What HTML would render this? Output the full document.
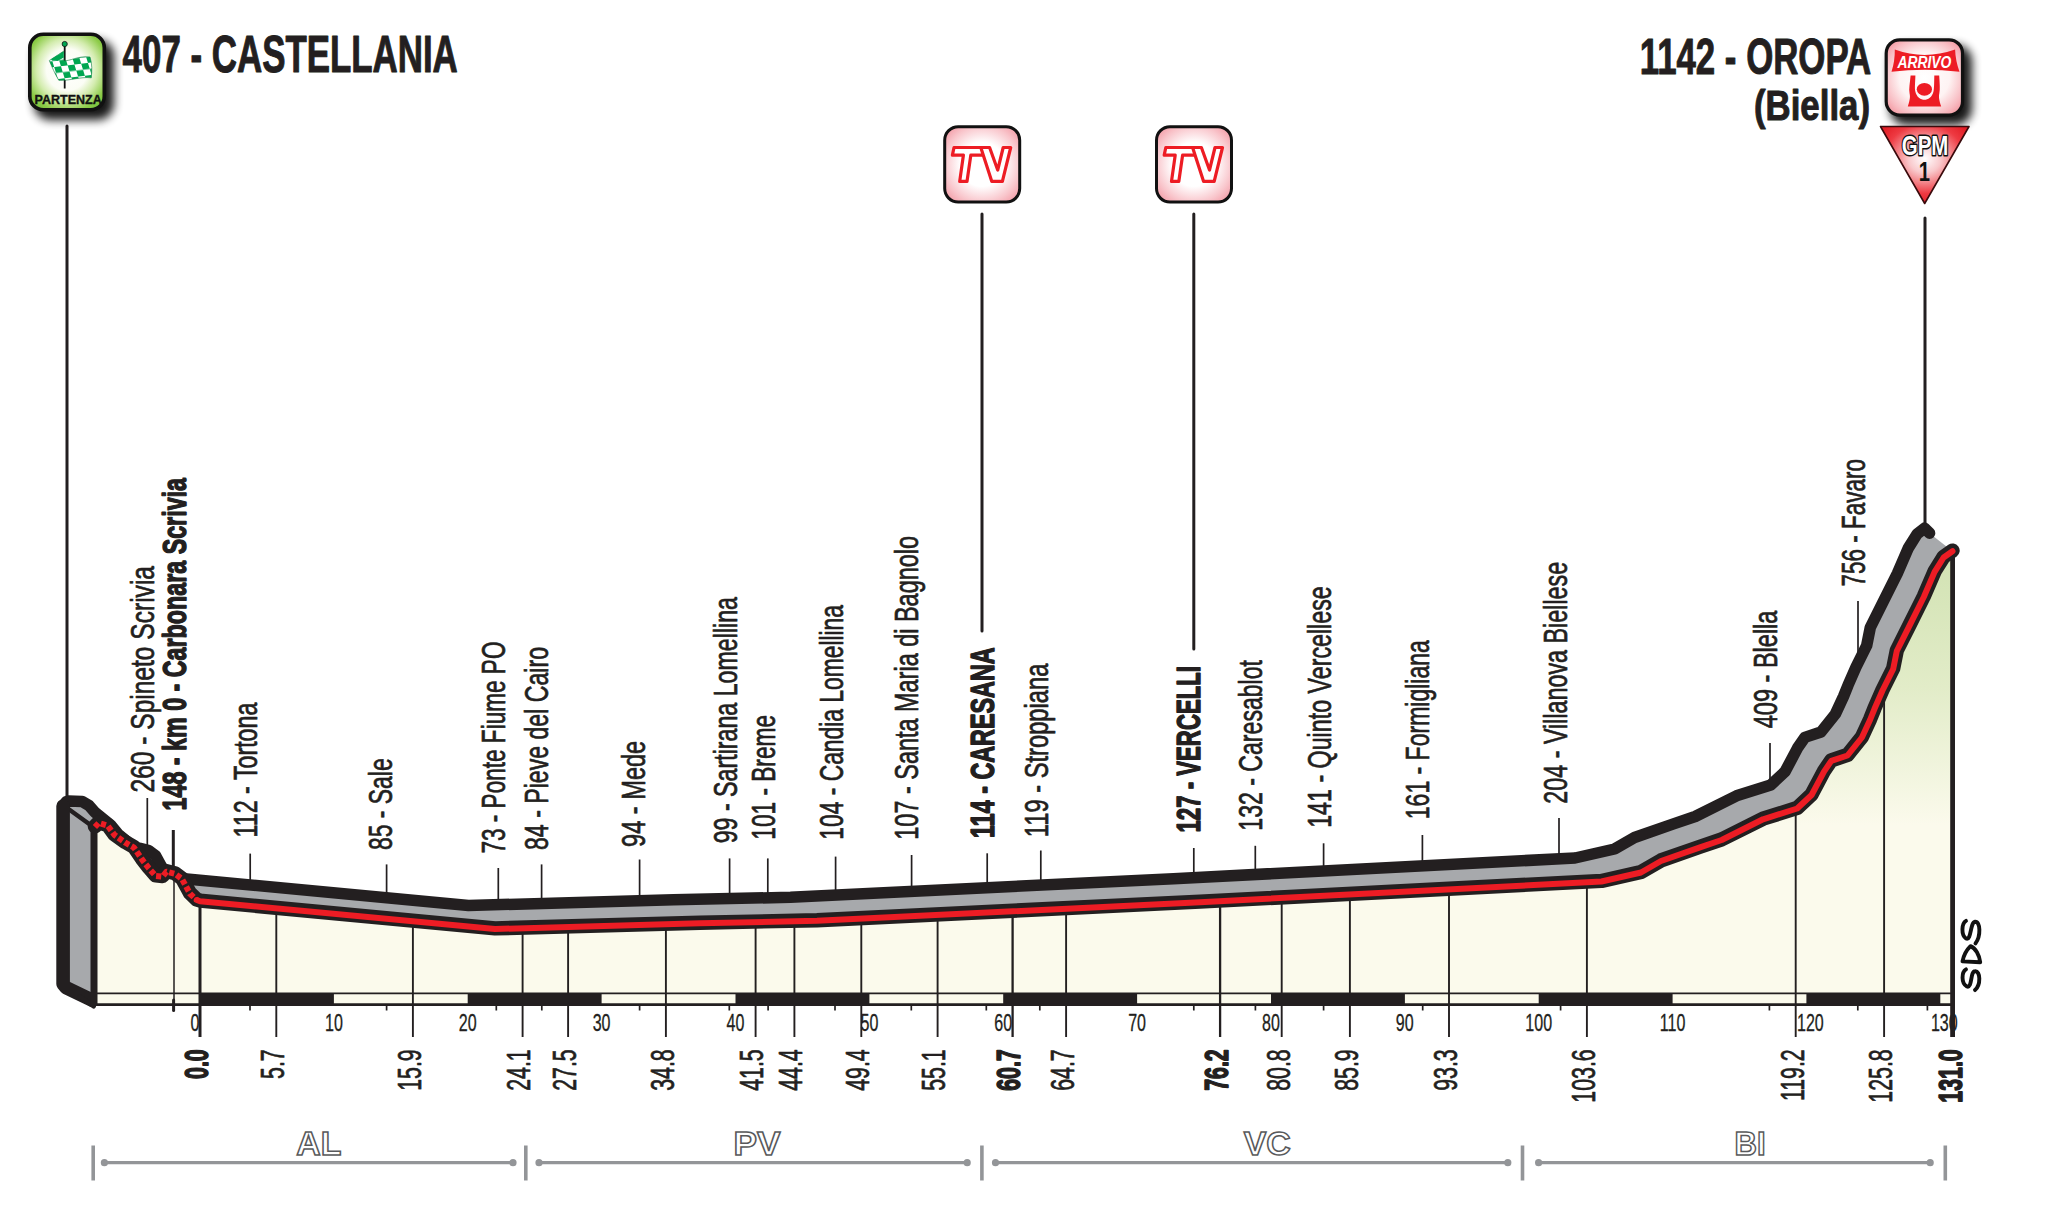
<!DOCTYPE html>
<html><head><meta charset="utf-8"><title>Stage profile</title>
<style>html,body{margin:0;padding:0;background:#fff}body{width:2048px;height:1224px;overflow:hidden;font-family:"Liberation Sans",sans-serif}svg{display:block}</style>
</head><body>
<svg width="2048" height="1224" viewBox="0 0 2048 1224">
<defs>
<linearGradient id="fillg" gradientUnits="userSpaceOnUse" x1="0" y1="550" x2="0" y2="825">
<stop offset="0" stop-color="#d1e2b2"/><stop offset="0.5" stop-color="#e2ecc8"/><stop offset="1" stop-color="#fbfaec"/></linearGradient>
<radialGradient id="gGreen" cx="0.5" cy="0.47" r="0.66"><stop offset="0" stop-color="#ffffff"/><stop offset="0.42" stop-color="#fbfdf5"/><stop offset="0.62" stop-color="#d3ecae"/><stop offset="0.85" stop-color="#8ccb47"/><stop offset="1" stop-color="#72bf3c"/></radialGradient>
<radialGradient id="gRed" cx="0.5" cy="0.5" r="0.66"><stop offset="0" stop-color="#ffffff"/><stop offset="0.5" stop-color="#fef3f3"/><stop offset="0.8" stop-color="#f8bcc2"/><stop offset="1" stop-color="#f2909a"/></radialGradient>
<radialGradient id="gPink" cx="0.5" cy="0.5" r="0.65"><stop offset="0" stop-color="#ffffff"/><stop offset="0.45" stop-color="#ffffff"/><stop offset="0.78" stop-color="#f9c6cc"/><stop offset="1" stop-color="#f39ba6"/></radialGradient>
<radialGradient id="gTri" cx="0.5" cy="0.42" r="0.6"><stop offset="0" stop-color="#ffffff"/><stop offset="0.3" stop-color="#f9c9cc"/><stop offset="0.75" stop-color="#ee3a42"/><stop offset="1" stop-color="#e31e26"/></radialGradient>
<filter id="sh" x="-40%" y="-40%" width="200%" height="200%"><feGaussianBlur stdDeviation="5"/></filter>
<pattern id="chk" width="13.6" height="12.4" patternUnits="userSpaceOnUse" patternTransform="translate(50.5,55) rotate(-7) skewX(10)"><rect width="13.6" height="12.4" fill="#fff"/><rect width="6.8" height="6.2" fill="#00a651"/><rect x="6.8" y="6.2" width="6.8" height="6.2" fill="#00a651"/></pattern>
</defs>
<rect width="2048" height="1224" fill="#fff"/>
<g stroke="#231f20" stroke-width="1.7" fill="none">
<line x1="147.3" y1="798.0" x2="147.3" y2="845.0"/>
<line x1="173.3" y1="830.0" x2="173.3" y2="880.0" stroke-width="3"/>
<line x1="250.2" y1="853.6" x2="250.2" y2="884.9"/>
<line x1="386.6" y1="864.4" x2="386.6" y2="897.8"/>
<line x1="498.3" y1="868.0" x2="498.3" y2="904.7"/>
<line x1="541.6" y1="864.4" x2="541.6" y2="903.5"/>
<line x1="639.6" y1="859.5" x2="639.6" y2="900.7"/>
<line x1="729.6" y1="858.4" x2="729.6" y2="898.6"/>
<line x1="767.8" y1="858.4" x2="767.8" y2="897.8"/>
<line x1="835.6" y1="856.6" x2="835.6" y2="895.1"/>
<line x1="911.6" y1="855.0" x2="911.6" y2="891.4"/>
<line x1="987.2" y1="853.3" x2="987.2" y2="887.7"/>
<line x1="1040.8" y1="850.5" x2="1040.8" y2="885.1"/>
<line x1="1193.8" y1="848.0" x2="1193.8" y2="877.7"/>
<line x1="1255.3" y1="845.8" x2="1255.3" y2="874.5"/>
<line x1="1323.6" y1="843.3" x2="1323.6" y2="871.0"/>
<line x1="1422.4" y1="835.0" x2="1422.4" y2="865.9"/>
<line x1="1559.0" y1="818.0" x2="1559.0" y2="858.8"/>
<line x1="1770.0" y1="743.0" x2="1770.0" y2="785.2"/>
<line x1="1858.0" y1="601.0" x2="1858.0" y2="663.0"/>
</g>
<g stroke="#231f20" stroke-width="3" fill="none" stroke-linecap="round">
<line x1="67" y1="126" x2="67" y2="800"/>
<line x1="982" y1="214" x2="982" y2="631"/>
<line x1="1193.8" y1="214" x2="1193.8" y2="649"/>
<line x1="1925" y1="218" x2="1925" y2="528"/>
</g>
<polygon points="94.0,1004.0 63.2,987.0 63.2,806.0 66.5,801.5 68.4,801.0 82.2,801.5 89.0,805.5 94.9,812.3 110.6,824.9 118.4,834.3 127.0,841.5 136.0,853.1 140.0,848.2 148.8,850.5 155.5,855.5 163.5,870.2 170.2,876.5 173.5,877.7 468.5,905.5 673.5,899.8 790.5,897.3 1173.5,878.7 1575.0,858.0 1614.5,849.0 1634.5,837.5 1673.5,823.8 1695.2,816.5 1736.5,795.8 1770.7,785.0 1785.1,771.5 1797.5,748.1 1804.8,737.4 1821.0,732.0 1835.4,714.0 1843.5,696.5 1848.0,685.3 1856.0,667.0 1866.7,645.5 1870.3,627.5 1882.9,602.3 1897.3,573.5 1908.1,548.4 1917.1,534.0 1924.5,528.2 1929.6,533.2 1952.5,551.2 1943.6,557.5 1934.6,571.9 1923.8,597.0 1909.4,625.8 1896.8,651.0 1893.2,669.0 1882.5,690.5 1874.5,708.8 1870.0,720.0 1861.9,737.5 1847.5,755.5 1831.3,760.9 1824.0,771.6 1811.6,795.0 1797.2,808.5 1763.0,819.3 1721.7,840.0 1700.0,847.3 1661.0,861.0 1641.0,872.5 1601.5,881.5 1200.0,902.2 817.0,920.8 700.0,923.3 495.0,929.0 200.0,901.2 196.7,900.0 190.0,893.7 182.0,879.0 175.3,874.0 166.5,871.7 162.5,876.6 155.7,876.0 148.8,868.2 142.0,859.4 134.0,847.6 125.3,842.7 114.5,835.0 107.6,825.6 98.8,823.0 94.9,827.0 94.0,827.0" fill="#a7a9ac"/>
<line x1="65" y1="806.5" x2="94" y2="827.5" stroke="#231f20" stroke-width="4.5" stroke-linecap="round"/>
<polyline points="63.2,806.0 66.5,801.5 68.4,801.0 82.2,801.5 89.0,805.5 94.9,812.3 110.6,824.9 118.4,834.3 127.0,841.5 136.0,853.1 140.0,848.2 148.8,850.5 155.5,855.5 163.5,870.2 170.2,876.5 173.5,877.7 468.5,905.5 673.5,899.8 790.5,897.3 1173.5,878.7 1575.0,858.0 1614.5,849.0 1634.5,837.5 1673.5,823.8 1695.2,816.5 1736.5,795.8 1770.7,785.0 1785.1,771.5 1797.5,748.1 1804.8,737.4 1821.0,732.0 1835.4,714.0 1843.5,696.5 1848.0,685.3 1856.0,667.0 1866.7,645.5 1870.3,627.5 1882.9,602.3 1897.3,573.5 1908.1,548.4 1917.1,534.0 1924.5,528.2 1929.6,533.2" fill="none" stroke="#231f20" stroke-width="11.5" stroke-linejoin="round" stroke-linecap="round"/>
<polyline points="92.5,1000.3 66,987.6 63.1,984 63.1,806" fill="none" stroke="#231f20" stroke-width="13.6" stroke-linejoin="round" stroke-linecap="round"/>
<line x1="80" y1="997" x2="93.5" y2="1006" stroke="#231f20" stroke-width="5" stroke-linecap="round"/>
<polygon points="94.9,827.0 98.8,823.0 107.6,825.6 114.5,835.0 125.3,842.7 134.0,847.6 142.0,859.4 148.8,868.2 155.7,876.0 162.5,876.6 166.5,871.7 175.3,874.0 182.0,879.0 190.0,893.7 196.7,900.0 200.0,901.2 495.0,929.0 700.0,923.3 817.0,920.8 1200.0,902.2 1601.5,881.5 1641.0,872.5 1661.0,861.0 1700.0,847.3 1721.7,840.0 1763.0,819.3 1797.2,808.5 1811.6,795.0 1824.0,771.6 1831.3,760.9 1847.5,755.5 1861.9,737.5 1870.0,720.0 1874.5,708.8 1882.5,690.5 1893.2,669.0 1896.8,651.0 1909.4,625.8 1923.8,597.0 1934.6,571.9 1943.6,557.5 1952.5,551.2 1953.0,1004.5 94.0,1004.5" fill="url(#fillg)"/>
<rect x="97" y="993.4" width="1856" height="11" fill="#fbfaec"/>
<g stroke="#231f20" fill="none">
<line x1="200.0" y1="901.2" x2="200.0" y2="1037" stroke-width="3.0"/>
<line x1="276.3" y1="908.4" x2="276.3" y2="1037" stroke-width="1.9"/>
<line x1="412.9" y1="921.3" x2="412.9" y2="1037" stroke-width="1.9"/>
<line x1="522.6" y1="928.2" x2="522.6" y2="1037" stroke-width="1.9"/>
<line x1="568.1" y1="927.0" x2="568.1" y2="1037" stroke-width="1.9"/>
<line x1="665.9" y1="924.2" x2="665.9" y2="1037" stroke-width="1.9"/>
<line x1="755.6" y1="922.1" x2="755.6" y2="1037" stroke-width="1.9"/>
<line x1="794.4" y1="921.3" x2="794.4" y2="1037" stroke-width="1.9"/>
<line x1="861.3" y1="918.6" x2="861.3" y2="1037" stroke-width="1.9"/>
<line x1="937.6" y1="914.9" x2="937.6" y2="1037" stroke-width="1.9"/>
<line x1="1012.6" y1="911.3" x2="1012.6" y2="1037" stroke-width="2.3"/>
<line x1="1066.1" y1="908.7" x2="1066.1" y2="1037" stroke-width="1.9"/>
<line x1="1220.1" y1="901.2" x2="1220.1" y2="1037" stroke-width="2.3"/>
<line x1="1281.7" y1="898.0" x2="1281.7" y2="1037" stroke-width="1.9"/>
<line x1="1349.9" y1="894.5" x2="1349.9" y2="1037" stroke-width="1.9"/>
<line x1="1449.0" y1="889.4" x2="1449.0" y2="1037" stroke-width="1.9"/>
<line x1="1586.9" y1="882.3" x2="1586.9" y2="1037" stroke-width="1.9"/>
<line x1="1795.7" y1="809.0" x2="1795.7" y2="1037" stroke-width="1.9"/>
<line x1="1884.1" y1="687.3" x2="1884.1" y2="1037" stroke-width="1.9"/>
<line x1="174" y1="870" x2="174" y2="1004" stroke-width="1.5"/>
<line x1="173.6" y1="1000" x2="173.6" y2="1010.5" stroke-width="3" stroke-linecap="round"/>
</g>
<rect x="200.0" y="993.4" width="133.9" height="11" fill="#231f20"/>
<rect x="467.7" y="993.4" width="133.9" height="11" fill="#231f20"/>
<rect x="735.5" y="993.4" width="133.9" height="11" fill="#231f20"/>
<rect x="1003.2" y="993.4" width="133.9" height="11" fill="#231f20"/>
<rect x="1271.0" y="993.4" width="133.9" height="11" fill="#231f20"/>
<rect x="1538.7" y="993.4" width="133.9" height="11" fill="#231f20"/>
<rect x="1806.4" y="993.4" width="133.9" height="11" fill="#231f20"/>
<line x1="94" y1="993.4" x2="1953" y2="993.4" stroke="#231f20" stroke-width="1.6"/>
<line x1="94" y1="1004.6" x2="1953" y2="1004.6" stroke="#231f20" stroke-width="2.6"/>
<g stroke="#231f20" stroke-width="1.7">
<line x1="250.0" y1="1004" x2="250.0" y2="1010.5"/>
<line x1="386.6" y1="1004" x2="386.6" y2="1010.5"/>
<line x1="496.3" y1="1004" x2="496.3" y2="1010.5"/>
<line x1="541.8" y1="1004" x2="541.8" y2="1010.5"/>
<line x1="639.6" y1="1004" x2="639.6" y2="1010.5"/>
<line x1="729.3" y1="1004" x2="729.3" y2="1010.5"/>
<line x1="768.1" y1="1004" x2="768.1" y2="1010.5"/>
<line x1="835.0" y1="1004" x2="835.0" y2="1010.5"/>
<line x1="911.3" y1="1004" x2="911.3" y2="1010.5"/>
<line x1="986.3" y1="1004" x2="986.3" y2="1010.5"/>
<line x1="1039.8" y1="1004" x2="1039.8" y2="1010.5"/>
<line x1="1193.8" y1="1004" x2="1193.8" y2="1010.5"/>
<line x1="1255.4" y1="1004" x2="1255.4" y2="1010.5"/>
<line x1="1323.6" y1="1004" x2="1323.6" y2="1010.5"/>
<line x1="1422.7" y1="1004" x2="1422.7" y2="1010.5"/>
<line x1="1560.6" y1="1004" x2="1560.6" y2="1010.5"/>
<line x1="1769.4" y1="1004" x2="1769.4" y2="1010.5"/>
<line x1="1857.8" y1="1004" x2="1857.8" y2="1010.5"/>
<line x1="1927.4" y1="1004" x2="1927.4" y2="1010.5"/>
</g>
<line x1="94" y1="829" x2="94" y2="1006" stroke="#231f20" stroke-width="7"/>
<line x1="1952.6" y1="552" x2="1952.6" y2="1037" stroke="#231f20" stroke-width="4.8"/>
<polyline points="94.9,827.0 98.8,823.0 107.6,825.6 114.5,835.0 125.3,842.7 134.0,847.6 142.0,859.4 148.8,868.2 155.7,876.0 162.5,876.6 166.5,871.7 175.3,874.0 182.0,879.0 190.0,893.7 196.7,900.0 200.0,901.2 495.0,929.0 700.0,923.3 817.0,920.8 1200.0,902.2 1601.5,881.5 1641.0,872.5 1661.0,861.0 1700.0,847.3 1721.7,840.0 1763.0,819.3 1797.2,808.5 1811.6,795.0 1824.0,771.6 1831.3,760.9 1847.5,755.5 1861.9,737.5 1870.0,720.0 1874.5,708.8 1882.5,690.5 1893.2,669.0 1896.8,651.0 1909.4,625.8 1923.8,597.0 1934.6,571.9 1943.6,557.5 1952.5,551.2" fill="none" stroke="#231f20" stroke-width="14.4" stroke-linejoin="round" stroke-linecap="round" transform="translate(0,-0.6)"/>
<polyline points="94.9,827.0 98.8,823.0 107.6,825.6 114.5,835.0 125.3,842.7 134.0,847.6 142.0,859.4 148.8,868.2 155.7,876.0 162.5,876.6 166.5,871.7 175.3,874.0 182.0,879.0 190.0,893.7 196.7,900.0" fill="none" stroke="#ed1c24" stroke-width="6" stroke-linejoin="round" stroke-dasharray="5.2 2.6"/>
<polyline points="196.7,900.0 200.0,901.2 495.0,929.0 700.0,923.3 817.0,920.8 1200.0,902.2 1601.5,881.5 1641.0,872.5 1661.0,861.0 1700.0,847.3 1721.7,840.0 1763.0,819.3 1797.2,808.5 1811.6,795.0 1824.0,771.6 1831.3,760.9 1847.5,755.5 1861.9,737.5 1870.0,720.0 1874.5,708.8 1882.5,690.5 1893.2,669.0 1896.8,651.0 1909.4,625.8 1923.8,597.0 1934.6,571.9 1943.6,557.5 1952.5,551.2" fill="none" stroke="#ed1c24" stroke-width="6" stroke-linejoin="round" stroke-linecap="round"/>
<g font-family="'Liberation Sans', sans-serif" fill="#231f20" stroke="#231f20" stroke-width="0.7" stroke-linejoin="round">
<text transform="translate(153.9,792.5) rotate(-90)" font-size="33.5" textLength="226.5" lengthAdjust="spacingAndGlyphs">260 - Spineto Scrivia</text>
<text transform="translate(185.7,810.5) rotate(-90)" font-size="33.5" font-weight="bold" stroke-width="1.4" textLength="332.5" lengthAdjust="spacingAndGlyphs">148 - km 0 - Carbonara Scrivia</text>
<text transform="translate(256.9,837.4) rotate(-90)" font-size="33.5" textLength="134.8" lengthAdjust="spacingAndGlyphs">112 - Tortona</text>
<text transform="translate(391.7,850.0) rotate(-90)" font-size="33.5" textLength="91.7" lengthAdjust="spacingAndGlyphs">85 - Sale</text>
<text transform="translate(504.7,853.6) rotate(-90)" font-size="33.5" textLength="212.1" lengthAdjust="spacingAndGlyphs">73 - Ponte Fiume PO</text>
<text transform="translate(548.0,850.0) rotate(-90)" font-size="33.5" textLength="203.0" lengthAdjust="spacingAndGlyphs">84 - Pieve del Cairo</text>
<text transform="translate(645.2,846.9) rotate(-90)" font-size="33.5" textLength="106.1" lengthAdjust="spacingAndGlyphs">94 - Mede</text>
<text transform="translate(736.9,843.3) rotate(-90)" font-size="33.5" textLength="246.3" lengthAdjust="spacingAndGlyphs">99 - Sartirana Lomellina</text>
<text transform="translate(774.6,839.7) rotate(-90)" font-size="33.5" textLength="124.7" lengthAdjust="spacingAndGlyphs">101 - Breme</text>
<text transform="translate(842.9,839.7) rotate(-90)" font-size="33.5" textLength="234.7" lengthAdjust="spacingAndGlyphs">104 - Candia Lomellina</text>
<text transform="translate(918.4,839.7) rotate(-90)" font-size="33.5" textLength="303.7" lengthAdjust="spacingAndGlyphs">107 - Santa Maria di Bagnolo</text>
<text transform="translate(993.9,837.9) rotate(-90)" font-size="33.5" font-weight="bold" stroke-width="1.4" textLength="190.5" lengthAdjust="spacingAndGlyphs">114 - CARESANA</text>
<text transform="translate(1047.7,837.2) rotate(-90)" font-size="33.5" textLength="173.6" lengthAdjust="spacingAndGlyphs">119 - Stroppiana</text>
<text transform="translate(1200.1,832.5) rotate(-90)" font-size="33.5" font-weight="bold" stroke-width="1.4" textLength="166.5" lengthAdjust="spacingAndGlyphs">127 - VERCELLI</text>
<text transform="translate(1262.2,830.7) rotate(-90)" font-size="33.5" textLength="170.7" lengthAdjust="spacingAndGlyphs">132 - Caresablot</text>
<text transform="translate(1330.5,827.8) rotate(-90)" font-size="33.5" textLength="241.5" lengthAdjust="spacingAndGlyphs">141 - Quinto Vercellese</text>
<text transform="translate(1429.4,819.2) rotate(-90)" font-size="33.5" textLength="179.0" lengthAdjust="spacingAndGlyphs">161 - Formigliana</text>
<text transform="translate(1566.7,803.7) rotate(-90)" font-size="33.5" textLength="241.9" lengthAdjust="spacingAndGlyphs">204 - Villanova Biellese</text>
<text transform="translate(1776.7,728.2) rotate(-90)" font-size="33.5" textLength="117.6" lengthAdjust="spacingAndGlyphs">409 - Blella</text>
<text transform="translate(1864.9,586.5) rotate(-90)" font-size="33.5" textLength="127.5" lengthAdjust="spacingAndGlyphs">756 - Favaro</text>
<text transform="translate(207.8,1049.3) rotate(-90) scale(0.637,1)" font-size="33.5" text-anchor="end" font-weight="bold" stroke-width="1.5">0.0</text>
<text transform="translate(284.1,1049.3) rotate(-90) scale(0.637,1)" font-size="33.5" text-anchor="end">5.7</text>
<text transform="translate(420.7,1049.3) rotate(-90) scale(0.637,1)" font-size="33.5" text-anchor="end">15.9</text>
<text transform="translate(530.4,1049.3) rotate(-90) scale(0.637,1)" font-size="33.5" text-anchor="end">24.1</text>
<text transform="translate(575.9,1049.3) rotate(-90) scale(0.637,1)" font-size="33.5" text-anchor="end">27.5</text>
<text transform="translate(673.7,1049.3) rotate(-90) scale(0.637,1)" font-size="33.5" text-anchor="end">34.8</text>
<text transform="translate(763.4,1049.3) rotate(-90) scale(0.637,1)" font-size="33.5" text-anchor="end">41.5</text>
<text transform="translate(802.2,1049.3) rotate(-90) scale(0.637,1)" font-size="33.5" text-anchor="end">44.4</text>
<text transform="translate(869.1,1049.3) rotate(-90) scale(0.637,1)" font-size="33.5" text-anchor="end">49.4</text>
<text transform="translate(945.4,1049.3) rotate(-90) scale(0.637,1)" font-size="33.5" text-anchor="end">55.1</text>
<text transform="translate(1020.4,1049.3) rotate(-90) scale(0.637,1)" font-size="33.5" text-anchor="end" font-weight="bold" stroke-width="1.5">60.7</text>
<text transform="translate(1073.9,1049.3) rotate(-90) scale(0.637,1)" font-size="33.5" text-anchor="end">64.7</text>
<text transform="translate(1227.9,1049.3) rotate(-90) scale(0.637,1)" font-size="33.5" text-anchor="end" font-weight="bold" stroke-width="1.5">76.2</text>
<text transform="translate(1289.5,1049.3) rotate(-90) scale(0.637,1)" font-size="33.5" text-anchor="end">80.8</text>
<text transform="translate(1357.7,1049.3) rotate(-90) scale(0.637,1)" font-size="33.5" text-anchor="end">85.9</text>
<text transform="translate(1456.8,1049.3) rotate(-90) scale(0.637,1)" font-size="33.5" text-anchor="end">93.3</text>
<text transform="translate(1594.7,1049.3) rotate(-90) scale(0.637,1)" font-size="33.5" text-anchor="end">103.6</text>
<text transform="translate(1803.5,1049.3) rotate(-90) scale(0.637,1)" font-size="33.5" text-anchor="end">119.2</text>
<text transform="translate(1891.9,1049.3) rotate(-90) scale(0.637,1)" font-size="33.5" text-anchor="end">125.8</text>
<text transform="translate(1961.5,1049.3) rotate(-90) scale(0.637,1)" font-size="33.5" text-anchor="end" font-weight="bold" stroke-width="1.5">131.0</text>
<text transform="translate(195.0,1030.5) scale(0.69,1)" font-size="23.3" text-anchor="middle" stroke-width="0.3">0</text>
<text transform="translate(333.9,1030.5) scale(0.69,1)" font-size="23.3" text-anchor="middle" stroke-width="0.3">10</text>
<text transform="translate(467.7,1030.5) scale(0.69,1)" font-size="23.3" text-anchor="middle" stroke-width="0.3">20</text>
<text transform="translate(601.6,1030.5) scale(0.69,1)" font-size="23.3" text-anchor="middle" stroke-width="0.3">30</text>
<text transform="translate(735.5,1030.5) scale(0.69,1)" font-size="23.3" text-anchor="middle" stroke-width="0.3">40</text>
<text transform="translate(869.4,1030.5) scale(0.69,1)" font-size="23.3" text-anchor="middle" stroke-width="0.3">50</text>
<text transform="translate(1003.2,1030.5) scale(0.69,1)" font-size="23.3" text-anchor="middle" stroke-width="0.3">60</text>
<text transform="translate(1137.1,1030.5) scale(0.69,1)" font-size="23.3" text-anchor="middle" stroke-width="0.3">70</text>
<text transform="translate(1271.0,1030.5) scale(0.69,1)" font-size="23.3" text-anchor="middle" stroke-width="0.3">80</text>
<text transform="translate(1404.8,1030.5) scale(0.69,1)" font-size="23.3" text-anchor="middle" stroke-width="0.3">90</text>
<text transform="translate(1538.7,1030.5) scale(0.69,1)" font-size="23.3" text-anchor="middle" stroke-width="0.3">100</text>
<text transform="translate(1672.6,1030.5) scale(0.69,1)" font-size="23.3" text-anchor="middle" stroke-width="0.3">110</text>
<text transform="translate(1810.4,1030.5) scale(0.69,1)" font-size="23.3" text-anchor="middle" stroke-width="0.3">120</text>
<text transform="translate(1944.3,1030.5) scale(0.69,1)" font-size="23.3" text-anchor="middle" stroke-width="0.3">130</text>
<text x="122.6" y="72.4" font-size="51.2" font-weight="bold" textLength="335.2" lengthAdjust="spacingAndGlyphs" stroke-width="1.0">407 - CASTELLANIA</text>
<text x="1639.7" y="73.7" font-size="50" font-weight="bold" textLength="231.5" lengthAdjust="spacingAndGlyphs" stroke-width="1.0">1142 - OROPA</text>
<text x="1754" y="120.2" font-size="41.6" font-weight="bold" textLength="116" lengthAdjust="spacingAndGlyphs" stroke-width="1.0">(Biella)</text>
</g>
<g stroke="#939598" fill="#939598">
<line x1="93.2" y1="1145.5" x2="93.2" y2="1180.5" stroke-width="3.6"/>
<line x1="525.8" y1="1145.5" x2="525.8" y2="1180.5" stroke-width="3.6"/>
<line x1="981.9" y1="1145.5" x2="981.9" y2="1180.5" stroke-width="3.6"/>
<line x1="1522.5" y1="1145.5" x2="1522.5" y2="1180.5" stroke-width="3.6"/>
<line x1="1945.3" y1="1145.5" x2="1945.3" y2="1180.5" stroke-width="3.6"/>
<line x1="104.4" y1="1162.7" x2="513.0" y2="1162.7" stroke-width="3.2"/>
<circle cx="104.4" cy="1162.7" r="3.6" stroke="none"/><circle cx="513.0" cy="1162.7" r="3.6" stroke="none"/>
<line x1="539.0" y1="1162.7" x2="967.2" y2="1162.7" stroke-width="3.2"/>
<circle cx="539.0" cy="1162.7" r="3.6" stroke="none"/><circle cx="967.2" cy="1162.7" r="3.6" stroke="none"/>
<line x1="995.5" y1="1162.7" x2="1507.8" y2="1162.7" stroke-width="3.2"/>
<circle cx="995.5" cy="1162.7" r="3.6" stroke="none"/><circle cx="1507.8" cy="1162.7" r="3.6" stroke="none"/>
<line x1="1538.6" y1="1162.7" x2="1930.2" y2="1162.7" stroke-width="3.2"/>
<circle cx="1538.6" cy="1162.7" r="3.6" stroke="none"/><circle cx="1930.2" cy="1162.7" r="3.6" stroke="none"/>
</g>
<g font-family="'Liberation Sans', sans-serif" font-weight="bold" font-size="32.5" fill="#fff" stroke="#58595b" stroke-width="1.5" text-anchor="middle">
<text x="318.8" y="1154.8" textLength="45.0" lengthAdjust="spacingAndGlyphs">AL</text>
<text x="757.0" y="1154.8" textLength="47.0" lengthAdjust="spacingAndGlyphs">PV</text>
<text x="1267.3" y="1154.8" textLength="47.0" lengthAdjust="spacingAndGlyphs">VC</text>
<text x="1750.0" y="1154.8" textLength="31.0" lengthAdjust="spacingAndGlyphs">BI</text>
</g>
<rect x="34" y="40" width="80" height="80" rx="16" fill="#000" opacity="0.9" filter="url(#sh)"/>
<rect x="29.8" y="34.2" width="74.5" height="75.5" rx="13.5" fill="url(#gGreen)" stroke="#111" stroke-width="3.6"/>
<line x1="64.7" y1="46" x2="64.7" y2="88.5" stroke="#111" stroke-width="1.8"/>
<path d="M49.3,60.5 L63.6,51.2 L63.8,60.6 C70,61.5 78,55.5 90,57 C92.3,64 92,71 91.3,77.8 C80,76.5 70,81 58.8,80.3 C55,74 52,67 49.3,60.5 Z" fill="url(#chk)" stroke="#0a7a3c" stroke-width="0.6"/>
<path d="M50.5,59.8 L63.6,51.4 L63.8,57.5 L57.5,61 Z" fill="#00a651"/>
<circle cx="64.7" cy="44" r="2.6" fill="#00a651" stroke="#111" stroke-width="0.8"/>
<text x="34.6" y="104.3" font-family="'Liberation Sans', sans-serif" font-weight="bold" font-size="13.4" fill="#111" stroke="#111" stroke-width="0.35" textLength="67.2" lengthAdjust="spacingAndGlyphs">PARTENZA</text>
<g transform="translate(0.0,0)">
<rect x="944.7" y="126.7" width="75" height="75.4" rx="13.5" fill="url(#gPink)" stroke="#111" stroke-width="3"/>
<g fill="#fff" stroke="#ed1c24" stroke-width="3.2" stroke-linejoin="round">
<polygon points="954,147.5 986,147.5 984.8,155.2 970.8,155.2 967,181.4 959.7,181.4 963.4,155.2 952.4,155.2"/>
<polygon points="980.8,147.5 989.6,147.5 997.7,170 1003.2,147.5 1010.7,147.5 1002.4,181.4 991.8,181.4"/>
</g></g>
<g transform="translate(211.8,0)">
<rect x="944.7" y="126.7" width="75" height="75.4" rx="13.5" fill="url(#gPink)" stroke="#111" stroke-width="3"/>
<g fill="#fff" stroke="#ed1c24" stroke-width="3.2" stroke-linejoin="round">
<polygon points="954,147.5 986,147.5 984.8,155.2 970.8,155.2 967,181.4 959.7,181.4 963.4,155.2 952.4,155.2"/>
<polygon points="980.8,147.5 989.6,147.5 997.7,170 1003.2,147.5 1010.7,147.5 1002.4,181.4 991.8,181.4"/>
</g></g>
<rect x="1890" y="45" width="82" height="80" rx="16" fill="#000" opacity="0.9" filter="url(#sh)"/>
<rect x="1886.2" y="39.8" width="76.3" height="75.3" rx="13.5" fill="url(#gRed)" stroke="#111" stroke-width="3.2"/>
<path d="M1894.8,49.6 Q1924.3,60.5 1955.1,49.6 Q1955.5,61 1959.5,71.8 Q1924.3,67.5 1891.5,71.8 Q1895,61 1894.8,49.6 Z" fill="#ed1c24"/>
<text x="1897.4" y="68.3" font-family="'Liberation Sans', sans-serif" font-weight="bold" font-style="italic" font-size="16.6" fill="#fff" textLength="54" lengthAdjust="spacingAndGlyphs">ARRIVO</text>
<path fill-rule="evenodd" d="M1910.6,75.5 L1915.4,75.5 C1915.2,82 1914.6,88 1915.2,91 C1916.5,97.5 1921,99.8 1924.4,99.8 C1927.8,99.8 1932.3,97.5 1933.6,91 C1934.2,88 1934.2,82 1934.3,75.5 L1939.2,75.5 C1939.6,83 1940.3,89 1939.3,93.5 C1938.6,96.5 1939,100 1941.2,106.6 L1907.8,106.6 C1910,100 1910.3,96.5 1909.6,93.5 C1908.6,89 1910,83 1910.6,75.5 Z" fill="#ed1c24"/>
<ellipse cx="1924.4" cy="89.3" rx="7.6" ry="6.4" fill="#ed1c24"/>
<polygon points="1880.5,126.5 1969,126.5 1924.7,203.5" fill="url(#gTri)" stroke="#3a0a0c" stroke-width="1.6" stroke-linejoin="round"/>
<text x="1901.8" y="154.7" font-family="'Liberation Sans', sans-serif" font-weight="bold" font-size="28" fill="#fff" stroke="#111" stroke-width="3" paint-order="stroke" stroke-linejoin="round" textLength="46.6" lengthAdjust="spacingAndGlyphs">GPM</text>
<text font-family="'Liberation Sans', sans-serif" font-weight="bold" font-size="28" fill="#111" text-anchor="middle" transform="translate(1924.4,181) scale(0.72,1)">1</text>
<g transform="translate(1981.5,991) rotate(-90)" fill="none" stroke="#111" stroke-width="3.9" stroke-linecap="round" stroke-linejoin="round">
<path d="M21.6,-15.5 C19,-20 7.5,-20.5 4.5,-14.6 C2.5,-9 19.5,-11.5 19.8,-6.5 C20.3,-1 6,-0.5 0.9,-6.5"/>
<path d="M29.6,-19 L28.8,-1.3 C36,-2 43,-6 44.9,-11 C41,-15 35,-18 29.6,-19 Z"/>
<path d="M70.1,-15.5 C67.5,-20 56,-20.5 52.5,-15.5 C50,-10 68.5,-11.5 69.2,-6.5 C69.7,-1 55,-0.5 47.6,-6"/>
</g>
</svg>
</body></html>
